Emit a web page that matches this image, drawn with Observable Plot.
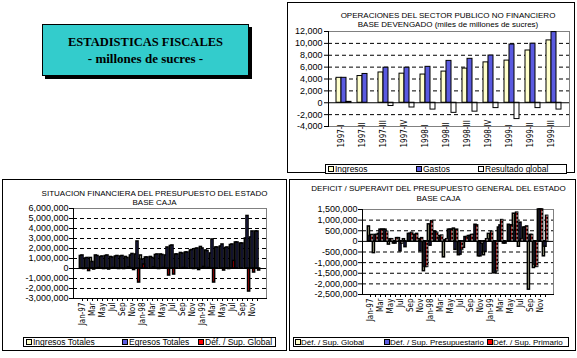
<!DOCTYPE html>
<html><head><meta charset="utf-8">
<script src="https://cdn.jsdelivr.net/npm/d3@7"></script>
<script src="https://cdn.jsdelivr.net/npm/@observablehq/plot@0.6"></script>
<style>
body{margin:0;background:#fff;}
#page{position:relative;width:577px;height:358px;overflow:hidden;background:#fff;font-family:'Liberation Sans',Arial,Helvetica,sans-serif;color:#000;}
.frame{position:absolute;border:1px solid #000;box-sizing:border-box;}
.ttl{position:absolute;font-size:8px;line-height:8px;white-space:nowrap;text-align:center;}
.leg{position:absolute;border:1px solid #000;box-sizing:border-box;background:#fff;overflow:hidden;}
.sw{position:absolute;width:6px;height:6px;border:1px solid #000;box-sizing:border-box;}
.lt{position:absolute;line-height:9px;white-space:nowrap;}
.plot{position:absolute;}
</style></head>
<body><div id="page"></div>
<script>
// ---------- DATA ----------
// Top chart: Operaciones del Sector Publico No Financiero (miles de millones de sucres)
const quarters = ["1997-I","1997-II","1997-III","1997-IV","1998-I","1998-II","1998-III","1998-IV","1999-I","1999-II","1999-III"];
const ingresos  = [4200, 4500, 5100, 4900, 4750, 5250, 5750, 6800, 7100, 8800, 10500];
const gastos    = [4200, 4850, 5900, 5900, 6050, 7050, 7400, 7950, 9800, 9950, 11900];
const resultado = [150, 0, -550, -800, -1150, -1700, -1500, -900, -2750, -900, -1150];
const topYTicks = [-4000, -2000, 0, 2000, 4000, 6000, 8000, 10000, 12000];
const topGrid   = [-2000, 2000, 4000, 6000, 8000, 10000];

// Months (both bottom charts)
const months = ["Jan-97","Feb-97","Mar-97","Apr-97","May-97","Jun-97","Jul-97","Aug-97","Sep-97","Oct-97","Nov-97","Dec-97",
                "Jan-98","Feb-98","Mar-98","Apr-98","May-98","Jun-98","Jul-98","Aug-98","Sep-98","Oct-98","Nov-98","Dec-98",
                "Jan-99","Feb-99","Mar-99","Apr-99","May-99","Jun-99","Jul-99","Aug-99","Sep-99","Oct-99","Nov-99","Dec-99"];
const monthTickLabels = ["Jan-97","","Mar","","May","","Jul","","Sep","","Nov","",
                         "Jan-98","","Mar","","May","","Jul","","Sep","","Nov","",
                         "Jan-99","","Mar","","May","","Jul","","Sep","","Nov",""];

// Bottom-left: Situacion financiera del presupuesto del estado, base caja
const ingresosTot = [1250000,1000000,1050000,1300000,1150000,1250000,1150000,1200000,1200000,1150000,1300000,1400000,
                     1300000,1100000,1150000,1350000,1400000,1300000,2250000,1400000,1550000,1600000,1800000,1950000,
                     2150000,1800000,1500000,2100000,2200000,2050000,2350000,2600000,2500000,3000000,3100000,3700000];
const egresosTot  = [1300000,1050000,650000,1250000,1200000,1300000,1100000,1250000,1250000,1050000,1450000,2700000,
                     900000,1100000,1050000,1400000,1350000,2100000,2300000,1400000,1500000,1600000,1850000,2000000,
                     2000000,1750000,2900000,2100000,2400000,2100000,2400000,2600000,2500000,5250000,3700000,3700000];
const defGlobalBL = [-50000,-250000,-100000,50000,-50000,-100000,50000,-50000,-50000,100000,-150000,-1400000,
                     400000,0,100000,-50000,50000,-700000,-600000,0,50000,0,-50000,-150000,
                     150000,50000,-1400000,0,-200000,-50000,750000,0,0,-2300000,-400000,-200000];
const blYTicks = [-3000000,-2000000,-1000000,0,1000000,2000000,3000000,4000000,5000000,6000000];
const blGrid   = [-2000000,-1000000,1000000,2000000,3000000,4000000,5000000];

// Bottom-right: Deficit / Superavit del presupuesto general del estado, base caja
const supGlobal  = [700000,-550000,350000,550000,-150000,-100000,150000,100000,350000,300000,100000,-1400000,
                    800000,450000,250000,-750000,550000,600000,-650000,-300000,250000,300000,-700000,-650000,
                    350000,-1500000,650000,-100000,780000,1300000,-250000,650000,-2270000,-1250000,1500000,-700000];
const supPresup  = [250000,300000,550000,550000,100000,-100000,-470000,-270000,350000,300000,-470000,-1200000,
                    -200000,450000,150000,50000,550000,-400000,-620000,200000,250000,780000,-700000,-500000,
                    100000,-1480000,750000,-100000,750000,500000,880000,650000,300000,-1100000,1500000,-250000];
const supPrimario= [300000,300000,550000,450000,100000,150000,-100000,0,400000,350000,150000,-1200000,
                    950000,400000,270000,100000,550000,550000,-400000,200000,300000,750000,-100000,100000,
                    450000,-1400000,1000000,0,750000,1350000,100000,700000,300000,-1200000,1500000,1200000];
const brYTicks = [-2500000,-2000000,-1500000,-1000000,-500000,0,500000,1000000,1500000];
const brGrid   = [-2000000,-1500000,-1000000,-500000,500000,1000000];

// ---------- STYLE ----------
const FONT = "'Liberation Sans', Arial, Helvetica, sans-serif";
const NARROW = "'Liberation Sans Narrow', 'DejaVu Sans Condensed', 'Liberation Sans', Arial, sans-serif";
const C_ING = "#ffffcc", C_GAS = "#5b5be0", C_RED = "#ff0000";
const fmt = d => d.toLocaleString("en-US");

const page = document.getElementById("page");
function add(tag, cls, css, text) {
  const e = document.createElement(tag);
  if (cls) e.className = cls;
  if (css) Object.assign(e.style, css);
  if (text != null) e.textContent = text;
  page.appendChild(e);
  return e;
}
function title(text, cx, baseline, w) {
  add("div", "ttl", {left: (cx - w/2) + "px", width: w + "px", top: (baseline - 6.8) + "px"}, text);
}
function legend(box, items, fs) {
  const b = add("div", "leg", {left: box[0] + "px", top: box[1] + "px", width: box[2] + "px", height: box[3] + "px"});
  const cy = box[3]/2 - 1;
  for (const it of items) {
    const s = document.createElement("div"); s.className = "sw";
    Object.assign(s.style, {left: (it.sx - box[0] - 1) + "px", top: (cy - 3) + "px", background: it.color});
    b.appendChild(s);
    const t = document.createElement("div"); t.className = "lt"; t.textContent = it.label;
    Object.assign(t.style, {left: (it.tx - box[0] - 1) + "px", top: (cy - 4.5) + "px", fontSize: fs + "px"});
    b.appendChild(t);
  }
}
function place(svg, left, top) {
  svg.classList.add("plot");
  svg.style.left = left + "px";
  svg.style.top = top + "px";
  page.appendChild(svg);
}

// ---------- TITLE BOX ----------
add("div", null, {position:"absolute", left:"42px", top:"24px", width:"207px", height:"52px",
  background:"#33cccc", border:"1px solid #000", boxSizing:"border-box", boxShadow:"3px 3px 0 #000"});
add("div", null, {position:"absolute", left:"42px", width:"207px", top:"35.5px", textAlign:"center",
  font:"bold 12.5px/12.5px 'Liberation Serif','Times New Roman',serif", whiteSpace:"nowrap"}, "ESTADISTICAS FISCALES");
add("div", null, {position:"absolute", left:"42px", width:"207px", top:"52px", textAlign:"center",
  font:"bold 13px/13px 'Liberation Serif','Times New Roman',serif", whiteSpace:"nowrap"}, "- millones de sucres -");

// ---------- PANEL FRAMES ----------
add("div", "frame", {left:"287px", top:"2px", width:"288px", height:"171px"});
add("div", "frame", {left:"2px", top:"179px", width:"285px", height:"172px"});
add("div", "frame", {left:"289px", top:"179px", width:"287px", height:"172px"});

// ---------- TOP-RIGHT CHART ----------
title("OPERACIONES DEL SECTOR PUBLICO NO FINANCIERO", 448, 18.3, 280);
title("BASE DEVENGADO (miles de millones de sucres)", 448, 27.5, 280);
{
  const W = 284, H = 124, ML = 40, MR = 3, MT = 3, MB = 26;
  const step = (W - ML - MR) / quarters.length, pi = 0.772, bw = step * (1 - pi);
  const data = quarters.map((q, i) => ({q, ing: ingresos[i], gas: gastos[i], res: resultado[i]}));
  const svg = Plot.plot({
    width: W, height: H, marginLeft: ML, marginRight: MR, marginTop: MT, marginBottom: MB,
    style: {fontFamily: FONT, fontSize: "9px", background: "transparent", overflow: "visible", color: "#000"},
    x: {type: "band", domain: quarters, paddingInner: pi, paddingOuter: pi/2, axis: null, label: null},
    y: {domain: [-4000, 12000], label: null},
    marks: [
      Plot.ruleY(topGrid, {stroke: "#000", strokeDasharray: "4,3"}),
      Plot.frame({stroke: "#808080"}),
      Plot.barY(data, {x: "q", y: "ing", dx: -bw, fill: C_ING, stroke: "#000", strokeWidth: 1, inset: 0}),
      Plot.barY(data, {x: "q", y: "gas", dx: 0, fill: C_GAS, stroke: "#000", strokeWidth: 1, inset: 0}),
      Plot.barY(data, {x: "q", y: "res", dx: bw, fill: "#fff", stroke: "#000", strokeWidth: 1, inset: 0}),
      Plot.ruleY([0], {stroke: "#000"}),
      Plot.frame({anchor: "left", stroke: "#000"}),
      Plot.axisY({ticks: topYTicks, tickFormat: fmt, tickSize: 4, tickPadding: 2, fontSize: 9, label: null}),
      Plot.text(quarters, {x: d => d, text: d => d, frameAnchor: "bottom", rotate: -90, textAnchor: "start",
        dy: 21, fontSize: 8, fontFamily: NARROW, fill: "#000"})
    ]
  });
  place(svg, 288, 28);
}
legend([325, 164, 242, 10], [
  {color: C_ING, label: "Ingresos", sx: 328, tx: 335},
  {color: C_GAS, label: "Gastos", sx: 416, tx: 423},
  {color: "#fff", label: "Resultado global", sx: 478, tx: 485}
], 8.5);

// ---------- BOTTOM CHART FACTORY ----------
function monthChart({W, H, ML, MR, MT, MB, yDomain, yTicks, grid, series}) {
  const step = (W - ML - MR) / months.length, pi = 0.7, bw = step * (1 - pi);
  const data = months.map((m, i) => {
    const o = {m};
    series.forEach((s, k) => o["v" + k] = s.values[i]);
    return o;
  });
  const lab = new Map(months.map((m, i) => [m, monthTickLabels[i]]));
  const marks = [
    Plot.ruleY(grid, {stroke: "#000", strokeDasharray: "4,3"}),
    Plot.frame({stroke: "#808080"}),
    ...series.map((s, k) => Plot.barY(data, {x: "m", y: "v" + k, dx: (k - 1) * bw, fill: s.color,
      stroke: "#000", strokeWidth: 1.6, inset: 0})),
  ];
  series.forEach((s, k) => { if (s.dash) marks.push(
    Plot.ruleX(data.filter(d => d["v" + k] !== 0), {x: "m", y1: 0, y2: "v" + k, dx: (k - 1) * bw, stroke: "#fff", strokeDasharray: "2,2", strokeWidth: 0.8})); });
  marks.push(
    Plot.ruleY([0], {stroke: "#000"}),
    Plot.frame({anchor: "left", stroke: "#000"}),
    Plot.frame({anchor: "bottom", stroke: "#000"}),
    Plot.axisY({ticks: yTicks, tickFormat: fmt, tickSize: 4, tickPadding: 1, fontSize: 9, label: null}),
    Plot.axisX({tickRotate: -90, tickFormat: d => lab.get(d), tickSize: 3, tickPadding: 1, fontSize: 8, fontFamily: NARROW, label: null})
  );
  return Plot.plot({
    width: W, height: H, marginLeft: ML, marginRight: MR, marginTop: MT, marginBottom: MB,
    style: {fontFamily: FONT, fontSize: "9px", background: "transparent", overflow: "visible", color: "#000"},
    x: {type: "band", domain: months, paddingInner: pi, paddingOuter: pi/2, label: null},
    y: {domain: yDomain, clamp: true, label: null},
    marks
  });
}

// ---------- BOTTOM-LEFT CHART ----------
title("SITUACION FINANCIERA DEL PRESUPUESTO DEL ESTADO", 154.5, 196.3, 280);
title("BASE CAJA", 154.5, 205.5, 100);
place(monthChart({W: 266, H: 120, ML: 70, MR: 3, MT: 3, MB: 27,
  yDomain: [-3000000, 6000000], yTicks: blYTicks, grid: blGrid,
  series: [
    {values: ingresosTot, color: C_ING},
    {values: egresosTot, color: C_GAS},
    {values: defGlobalBL, color: C_RED}
  ]}), 3, 205);
legend([23, 337, 253, 10], [
  {color: C_ING, label: "Ingresos Totales", sx: 26, tx: 33},
  {color: C_GAS, label: "Egresos Totales", sx: 122, tx: 129},
  {color: C_RED, label: "Déf. / Sup. Global", sx: 198, tx: 205}
], 8.5);

// ---------- BOTTOM-RIGHT CHART ----------
title("DEFICIT / SUPERAVIT DEL PRESUPUESTO GENERAL DEL ESTADO", 438.5, 191.3, 284);
title("BASE CAJA", 438.5, 202, 100);
place(monthChart({W: 265, H: 120, ML: 72, MR: 2, MT: 3, MB: 32,
  yDomain: [-2500000, 1500000], yTicks: brYTicks, grid: brGrid,
  series: [
    {values: supGlobal, color: C_ING},
    {values: supPresup, color: C_GAS},
    {values: supPrimario, color: C_RED, dash: true}
  ]}), 290, 206);
legend([293, 337, 276, 10], [
  {color: C_ING, label: "Déf. / Sup. Global", sx: 295, tx: 301},
  {color: C_GAS, label: "Déf. / Sup. Presupuestario", sx: 384, tx: 390},
  {color: C_RED, label: "Déf. / Sup. Primario", sx: 487, tx: 493}
], 8);
</script></body></html>
